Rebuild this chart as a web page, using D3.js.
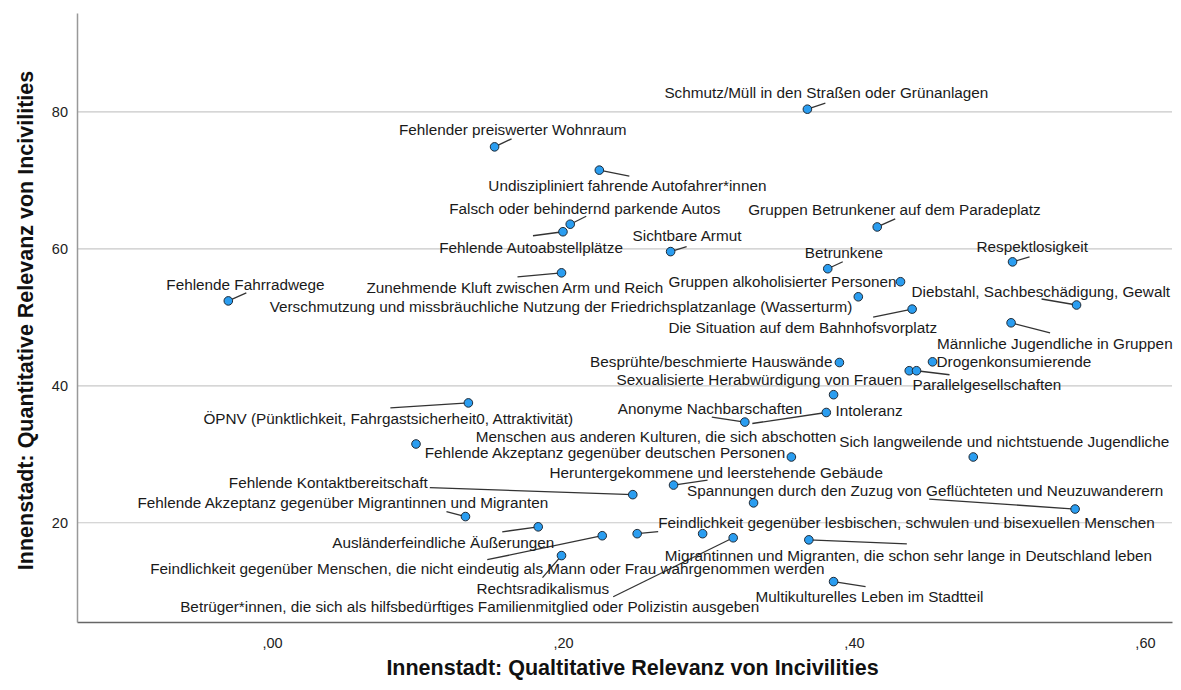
<!DOCTYPE html>
<html>
<head>
<meta charset="utf-8">
<script src="https://cdn.jsdelivr.net/npm/d3@7"></script>
<style>
	body { margin: 0; background: #fff; }
	text { font-family: "Liberation Sans", Arial, sans-serif; }
</style>
</head>
<body>
<div id="chart"></div>
<script>

// items of the survey (empty name = point without visible label)
let items = [
	"Schmutz/Müll in den Straßen oder Grünanlagen",
	"Fehlender preiswerter Wohnraum",
	"Undiszipliniert fahrende Autofahrer*innen",
	"Falsch oder behindernd parkende Autos",
	"Fehlende Autoabstellplätze",
	"Sichtbare Armut",
	"Gruppen Betrunkener auf dem Paradeplatz",
	"Respektlosigkeit",
	"Betrunkene",
	"Gruppen alkoholisierter Personen",
	"Zunehmende Kluft zwischen Arm und Reich",
	"Fehlende Fahrradwege",
	"Verschmutzung und missbräuchliche Nutzung der Friedrichsplatzanlage (Wasserturm)",
	"Diebstahl, Sachbeschädigung, Gewalt",
	"Die Situation auf dem Bahnhofsvorplatz",
	"Männliche Jugendliche in Gruppen",
	"Besprühte/beschmierte Hauswände",
	"Drogenkonsumierende",
	"Sexualisierte Herabwürdigung von Frauen",
	"Parallelgesellschaften",
	"ÖPNV (Pünktlichkeit, Fahrgastsicherheit0, Attraktivität)",
	"Intoleranz",
	"Anonyme Nachbarschaften",
	"Menschen aus anderen Kulturen, die sich abschotten",
	"",
	"Fehlende Akzeptanz gegenüber deutschen Personen",
	"Sich langweilende und nichtstuende Jugendliche",
	"Heruntergekommene und leerstehende Gebäude",
	"Fehlende Kontaktbereitschaft",
	"",
	"Spannungen durch den Zuzug von Geflüchteten und Neuzuwanderern",
	"Fehlende Akzeptanz gegenüber Migrantinnen und Migranten",
	"Ausländerfeindliche Äußerungen",
	"Feindlichkeit gegenüber Menschen, die nicht eindeutig als Mann oder Frau wahrgenommen werden",
	"Feindlichkeit gegenüber lesbischen, schwulen und bisexuellen Menschen",
	"",
	"Betrüger*innen, die sich als hilfsbedürftiges Familienmitglied oder Polizistin ausgeben",
	"Migrantinnen und Migranten, die schon sehr lange in Deutschland leben",
	"Rechtsradikalismus",
	"Multikulturelles Leben im Stadtteil"
];

// x: qualitative relevance
let qualitative = [
	0.368, 0.153, 0.225, 0.205, 0.200, 0.274, 0.416, 0.509, 0.382, 0.432,
	0.199, -0.030, 0.403, 0.553, 0.440, 0.508, 0.390, 0.454, 0.438, 0.443,
	0.135, 0.386, 0.325, 0.381, 0.099, 0.357, 0.482, 0.276, 0.248, 0.331,
	0.552, 0.133, 0.183, 0.227, 0.251, 0.296, 0.317, 0.369, 0.199, 0.386
];

// y: quantitative relevance
let quantitative = [
	80.4, 74.9, 71.5, 63.6, 62.5, 59.6, 63.2, 58.1, 57.1, 55.2,
	56.5, 52.4, 53.0, 51.8, 51.2, 49.2, 43.4, 43.5, 42.2, 42.2,
	37.5, 38.7, 34.7, 36.1, 31.5, 29.6, 29.6, 25.5, 24.1, 22.9,
	22.0, 20.9, 19.4, 18.1, 18.4, 18.4, 17.8, 17.5, 15.2, 11.4
];

let xTicks = [0, 0.2, 0.4, 0.6];
let yTicks = [20, 40, 60, 80];

// label placement (pixel offsets from the marker): anchor, dx, dy, leader end dx, dy
let labelLayout = [
	["start", -143, -17, 18, -6],
	["end", 132, -17, 17, -8],
	["start", -111, 15, 30, 6],
	["start", -121, -16, 16, -8],
	["end", 60, 16, -30, 4],
	["start", -38, -16, 16, -5],
	["start", -129, -17, 18, -8],
	["start", -36, -15, 17, -5],
	["start", -23, -16, 15, -7],
	["end", -4, 0],
	["start", -195, 15, -44, 4],
	["start", -62, -16, 18, -8],
	["end", -6, 10],
	["start", -165, -14, -35, -6],
	["end", 25, 18, -39, 8],
	["start", -74, 21, 39, 10],
	["end", -7, -1],
	["start", 4, 0],
	["end", -7, 9],
	["start", -4, 14, 33, 4],
	["start", -265, 16, -78, 5],
	["start", 2, 16],
	["start", -127, -14, -33, -5],
	["end", 10, 24, -74, 11],
	null,
	["end", -6, -4],
	["start", -134, -15],
	["start", -124, -13, 34, -5],
	["end", -205, -12, -203, -7],
	null,
	["start", -388, -19, -146, -10],
	["start", -328, -14, -19, -5],
	["start", -206, 16, -36, 5],
	["start", -452, 33, -115, 24],
	["start", 21, -11, 21, -2],
	null,
	["start", -553, 69, -120, 59],
	["start", -144, 16, 98, 4],
	["start", -85, 33, -19, 22],
	["start", -78, 15, 32, 5]
];

let width = 1181,
height = 690;

let plot = { left: 77, right: 1172, top: 13, bottom: 622 };

let svg = d3.select("#chart")
.append("svg")
.attr("width", width)
.attr("height", height)
.style("background", "#fff");

let x = d3.scaleLinear()
.domain([-0.134, 0.6186])
.range([plot.left, plot.right]);

let y = d3.scaleLinear()
.domain([5.5, 94.45])
.range([plot.bottom, plot.top]);

let nodes = items.map((name, i) => {
	return {
		name: name,
		qual: qualitative[i],
		quant: quantitative[i],
		px: x(qualitative[i]),
		py: y(quantitative[i]),
		lay: labelLayout[i]
	};
});

// gridlines
svg.append("g")
.selectAll("line")
.data(yTicks)
.enter()
.append("line")
.attr("x1", plot.left)
.attr("x2", plot.right)
.attr("y1", d => y(d))
.attr("y2", d => y(d))
.attr("stroke", "#c8c8c8")
.attr("stroke-width", 1.2);

// axes
let xAxis = svg.append("g")
.attr("transform", "translate(0," + plot.bottom + ")")
.call(d3.axisBottom(x).tickValues(xTicks).tickSize(0).tickPadding(16)
	.tickFormat(d => d3.format(".2f")(d).replace("0.", ",").replace("-,", "-,")));

xAxis.select(".domain").attr("stroke", "#666").attr("stroke-width", 1.5);

let yAxis = svg.append("g")
.attr("transform", "translate(" + plot.left + ",0)")
.call(d3.axisLeft(y).tickValues(yTicks).tickSize(0).tickPadding(9));

yAxis.select(".domain").attr("stroke", "#999").attr("stroke-width", 1.5);

svg.selectAll(".tick text")
.style("font-family", "'Liberation Sans', Arial, sans-serif")
.style("font-size", "14.5px")
.attr("fill", "#222");

// axis titles
svg.append("text")
.attr("x", (plot.left + plot.right) / 2 + 8)
.attr("y", 675)
.attr("text-anchor", "middle")
.style("font-size", "21.5px")
.style("font-weight", "bold")
.attr("fill", "#111")
.text("Innenstadt: Qualtitative Relevanz von Incivilities");

svg.append("text")
.attr("transform", "translate(33," + ((plot.top + plot.bottom) / 2 + 3) + ") rotate(-90)")
.attr("text-anchor", "middle")
.style("font-size", "21.5px")
.style("font-weight", "bold")
.attr("fill", "#111")
.text("Innenstadt: Quantitative Relevanz von Incivilities");

// leader lines
let withLeader = nodes.filter(d => d.lay && d.lay.length > 3);

svg.append("g")
.selectAll("line")
.data(withLeader)
.enter()
.append("line")
.attr("x1", d => d.px + d.lay[3])
.attr("y1", d => d.py + d.lay[4])
.attr("x2", d => d.px)
.attr("y2", d => d.py)
.attr("stroke", "#333")
.attr("stroke-width", 1.3);

// markers
svg.append("g")
.selectAll("circle")
.data(nodes)
.enter()
.append("circle")
.attr("cx", d => d.px)
.attr("cy", d => d.py)
.attr("r", 4.3)
.attr("fill", "#2a9df0")
.attr("stroke", "#1f2a36")
.attr("stroke-width", 1);

// labels
svg.append("g")
.selectAll("text")
.data(nodes.filter(d => d.lay && d.name))
.enter()
.append("text")
.attr("x", d => d.px + d.lay[1])
.attr("y", d => d.py + d.lay[2] + 5.5)
.attr("text-anchor", d => d.lay[0])
.style("font-size", "15.3px")
.attr("fill", "#1a1a1a")
.text(d => d.name);

</script>
</body>
</html>
